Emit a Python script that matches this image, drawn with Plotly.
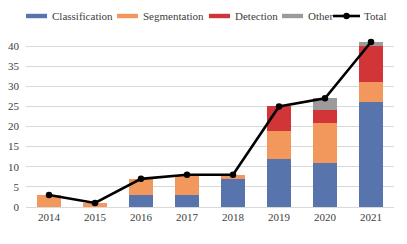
import plotly.graph_objects as go

years = ["2014", "2015", "2016", "2017", "2018", "2019", "2020", "2021"]
classification = [0, 0, 3, 3, 7, 12, 11, 26]
segmentation = [3, 1, 4, 5, 1, 7, 10, 5]
detection = [0, 0, 0, 0, 0, 6, 3, 9]
other = [0, 0, 0, 0, 0, 0, 3, 1]
total = [3, 1, 7, 8, 8, 25, 27, 41]

font_family = "Times New Roman, Liberation Serif, serif"
text_color = "#404040"

W, H = 407, 244
ML, MR, MT, MB = 26, 13, 38, 37
PW, PH = W - ML - MR, H - MT - MB

series = [
    ("Classification", classification, "#5874AC"),
    ("Segmentation", segmentation, "#F2985C"),
    ("Detection", detection, "#D13538"),
    ("Other", other, "#9B9B9B"),
]

fig = go.Figure()
for name, vals, col in series:
    fig.add_trace(go.Bar(x=years, y=vals, name=name, marker=dict(color=col, line=dict(width=0))))

fig.add_trace(go.Scatter(x=years, y=total, name="Total", mode="lines+markers",
                         line=dict(color="black", width=2.6),
                         marker=dict(color="black", size=6.5)))

# manual legend (pixel layout converted to paper coordinates)
def px_x(p):
    return (p - ML) / PW

def px_y(p):
    return (H - MB - p) / PH

legend_y = 16
swatch_x = [26, 117, 209, 282]
shapes = []
annotations = []
for (name, _, col), sx in zip(series, swatch_x):
    shapes.append(dict(type="rect", xref="paper", yref="paper",
                       x0=px_x(sx), x1=px_x(sx + 21), y0=px_y(legend_y + 2.2), y1=px_y(legend_y - 2.2),
                       fillcolor=col, line=dict(width=0)))
    annotations.append(dict(text=name, xref="paper", yref="paper", x=px_x(sx + 24), y=px_y(legend_y),
                            xanchor="left", yanchor="middle", showarrow=False,
                            font=dict(family=font_family, size=11, color=text_color)))
# Total entry
tx = 333
shapes.append(dict(type="line", xref="paper", yref="paper",
                   x0=px_x(tx), x1=px_x(tx + 27), y0=px_y(legend_y), y1=px_y(legend_y),
                   line=dict(color="black", width=2.6)))
shapes.append(dict(type="circle", xref="paper", yref="paper",
                   x0=px_x(tx + 13.5 - 3.2), x1=px_x(tx + 13.5 + 3.2),
                   y0=px_y(legend_y + 3.2), y1=px_y(legend_y - 3.2),
                   fillcolor="black", line=dict(width=0)))
annotations.append(dict(text="Total", xref="paper", yref="paper", x=px_x(tx + 28.5), y=px_y(legend_y),
                        xanchor="left", yanchor="middle", showarrow=False,
                        font=dict(family=font_family, size=11, color=text_color)))

fig.update_layout(
    width=W, height=H,
    barmode="stack", bargap=0.48,
    margin=dict(l=ML, r=MR, t=MT, b=MB, autoexpand=False),
    paper_bgcolor="white", plot_bgcolor="white",
    font=dict(family=font_family, size=11, color=text_color),
    showlegend=False,
    hovermode=False,
    shapes=shapes,
    annotations=annotations,
    xaxis=dict(showgrid=False, showline=True, linecolor="#D9D9D9", linewidth=1,
               ticks="", automargin=False, tickfont=dict(family=font_family, size=11, color=text_color)),
    yaxis=dict(range=[0, 42], tickvals=[0, 5, 10, 15, 20, 25, 30, 35, 40],
               showgrid=True, gridcolor="#D9D9D9", gridwidth=1, zeroline=False,
               showline=False, ticks="", automargin=False, ticklabelstandoff=6,
               tickfont=dict(family=font_family, size=11, color=text_color)),
)

fig.write_html("out.html", config={"displayModeBar": False, "staticPlot": True},
               post_script="document.body.style.margin='0';document.body.style.padding='0';")
